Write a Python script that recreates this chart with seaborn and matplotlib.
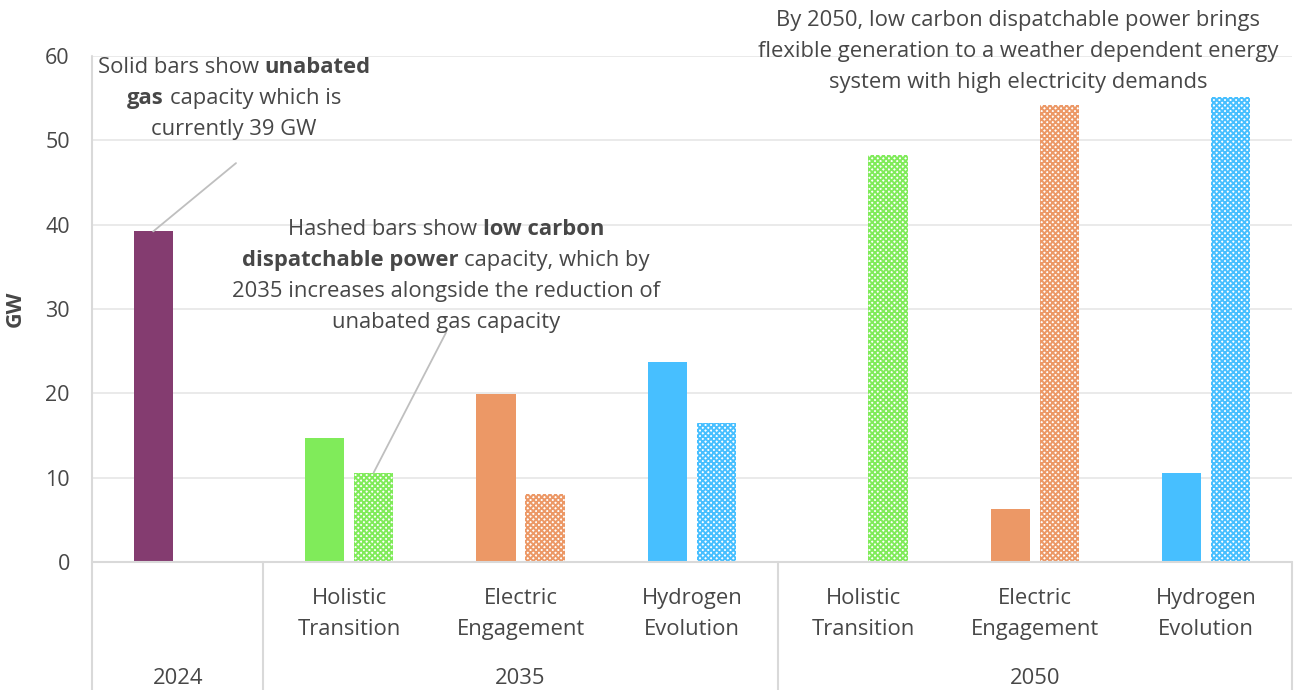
import numpy as np
import pandas as pd
import matplotlib
matplotlib.use("Agg")
import matplotlib.pyplot as plt
import seaborn as sns

# Data
slots = ["2024", "HT 2035", "EE 2035", "HE 2035", "HT 2050", "EE 2050", "HE 2050"]
scenario_labels = ["", "Holistic\nTransition", "Electric\nEngagement", "Hydrogen\nEvolution",
                   "Holistic\nTransition", "Electric\nEngagement", "Hydrogen\nEvolution"]
years = ["2024", "2035", "2050"]
year_centres = [0, 2, 5]
unabated_gas = [39.2, 14.7, 19.9, 23.7, 0.0, 6.3, 10.6]
low_carbon = [0.0, 10.6, 8.1, 16.5, 48.3, 54.2, 55.1]
slot_colors = ["#843C70", "#80EB5A", "#EC9866", "#47BFFF", "#80EB5A", "#EC9866", "#47BFFF"]

df = pd.DataFrame({
    "slot": slots * 2,
    "type": ["Unabated gas"] * 7 + ["Low carbon dispatchable"] * 7,
    "GW": unabated_gas + low_carbon,
})

sns.set_theme(style="white")
plt.rcParams["font.family"] = ["Open Sans", "DejaVu Sans"]
plt.rcParams["hatch.linewidth"] = 1.4

TXT = "#474747"
W, H = 1298, 690
fig = plt.figure(figsize=(W / 100, H / 100), dpi=100)
ax = fig.add_axes([92 / W, 128 / H, 1200 / W, 506 / H])

sns.barplot(data=df, x="slot", y="GW", hue="type", order=slots,
            width=0.572, gap=0.2, errorbar=None, legend=False, ax=ax)

# colour the bars per scenario, hatch the low carbon ones
for patch, col in zip(ax.containers[0], slot_colors):
    patch.set_facecolor(col)
    patch.set_linewidth(0)
for patch, col in zip(ax.containers[1], slot_colors):
    patch.set_facecolor("white")
    patch.set_edgecolor(col)
    patch.set_hatch("xxxxxx")
    patch.set_linewidth(0)

ax.set_xlim(-0.5, 6.5)
ax.set_ylim(0, 60)
ax.set_yticks(range(0, 61, 10))
ax.yaxis.grid(True, color="#E8E8E8", lw=1.3)
ax.set_axisbelow(True)
for s in ax.spines.values():
    s.set_visible(False)
ax.tick_params(axis="y", length=8, color="#D9D9D9", width=1.3, pad=8,
               labelsize=15.5, labelcolor=TXT)
ax.tick_params(axis="x", length=0)
ax.set_xticklabels([])
ax.set_xlabel("")
ax.set_ylabel("GW", fontsize=15.5, fontweight="bold", color=TXT, labelpad=14)

# axis lines and category separators
lc = "#D9D9D9"
drop = -128 / 506
tr = ax.get_xaxis_transform()
ax.plot([-0.5, 6.5], [0, 0], color=lc, lw=1.5, transform=tr, clip_on=False)
ax.plot([-0.5, -0.5], [1, drop], color=lc, lw=1.5, transform=tr, clip_on=False)
for xs in [0.5, 3.5, 6.5]:
    ax.plot([xs, xs], [0, drop], color=lc, lw=1.5, transform=tr, clip_on=False)

fig.canvas.draw()
renderer = fig.canvas.get_renderer()
FS = 15.8


def put_line(xc, yc, segs, size=FS):
    """Centre a line of (text, weight) pieces at pixel xc, yc (from top)."""
    texts, widths = [], []
    for s, w in segs:
        t = fig.text(0, 0, s, fontsize=size, fontweight=w, color=TXT,
                     ha="left", va="baseline")
        texts.append(t)
        widths.append(t.get_window_extent(renderer).width)
    sp = fig.text(0, 0, "a a", fontsize=size)
    sp2 = fig.text(0, 0, "aa", fontsize=size)
    space = sp.get_window_extent(renderer).width - sp2.get_window_extent(renderer).width
    sp.remove()
    sp2.remove()
    total = sum(widths) + space * (len(segs) - 1)
    x = xc - total / 2
    base = yc + size * 1.39 * 0.36
    for t, w in zip(texts, widths):
        t.set_position((x / W, 1 - base / H))
        x += w + space


def px_x(xd):
    return ax.transData.transform((xd, 0))[0]


# category labels
for i, lab in enumerate(scenario_labels):
    for j, line in enumerate(lab.split("\n")):
        if line:
            put_line(px_x(i), 596 + 31 * j, [(line, "normal")])
for yr, c in zip(years, year_centres):
    put_line(px_x(c), 676, [(yr, "normal")])

# annotations
n, b = "normal", "bold"
put_line(234, 65, [("Solid bars show", n), ("unabated", b)])
put_line(234, 96, [("gas", b), ("capacity which is", n)])
put_line(234, 127, [("currently 39 GW", n)])

put_line(446, 227, [("Hashed bars show", n), ("low carbon", b)])
put_line(446, 258, [("dispatchable power", b), ("capacity, which by", n)])
put_line(446, 289, [("2035 increases alongside the reduction of", n)])
put_line(446, 320, [("unabated gas capacity", n)])

put_line(1018, 18, [("By 2050, low carbon dispatchable power brings", n)])
put_line(1018, 49, [("flexible generation to a weather dependent energy", n)])
put_line(1018, 80, [("system with high electricity demands", n)])

# leader lines
ax.plot([-0.143, 0.34], [39.2, 47.3], color="#BFBFBF", lw=1.3, clip_on=False)
ax.plot([1.143, 1.565], [10.6, 27.2], color="#BFBFBF", lw=1.3, clip_on=False)

fig.savefig("out.png", dpi=100)
